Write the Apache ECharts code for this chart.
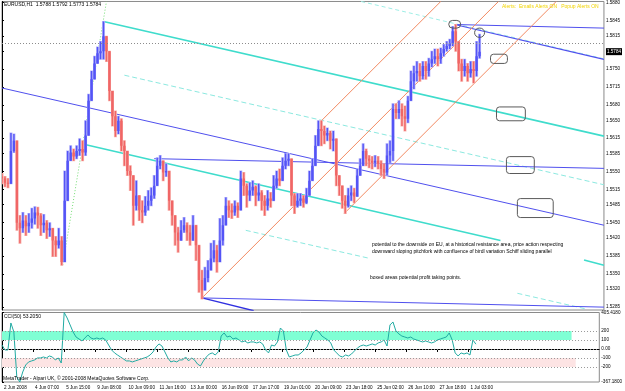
<!DOCTYPE html>
<html>
<head>
<meta charset="utf-8">
<script src="https://cdn.jsdelivr.net/npm/echarts@6/dist/echarts.min.js"></script>
<style>
  html, body { margin: 0; padding: 0; background: #fff; }
  #chart { width: 625px; height: 391px; }
</style>
</head>
<body>
<div id="chart"></div>
<script>
// EURUSD H1, 2 Jun - 1 Jul 2008, one bar every 3px of the original screenshot
var firstOpen = 1.5540;
var barClose = [
  1.5536,1.5528,1.5526,1.5590,1.5610,1.5450,1.5439,1.5454,1.5443,1.5450,
  1.5458,1.5470,1.5464,1.5445,1.5450,1.5435,1.5439,1.5415,1.5406,1.5415,
  1.5373,1.5493,1.5571,1.5587,1.5579,1.5590,1.5594,1.5587,1.5620,1.5688,
  1.5730,1.5761,1.5781,1.5785,1.5814,1.5785,1.5707,1.5658,1.5629,1.5649,
  1.5600,1.5590,1.5551,1.5542,1.5483,1.5503,1.5474,1.5470,1.5483,1.5493,
  1.5503,1.5522,1.5561,1.5571,1.5548,1.5551,1.5493,1.5464,1.5431,1.5415,
  1.5435,1.5445,1.5431,1.5415,1.5445,1.5406,1.5338,1.5318,1.5342,1.5357,
  1.5380,1.5396,1.5373,1.5415,1.5445,1.5483,1.5474,1.5470,1.5483,1.5474,
  1.5536,1.5522,1.5503,1.5513,1.5520,1.5503,1.5509,1.5493,1.5483,1.5497,
  1.5493,1.5522,1.5536,1.5532,1.5561,1.5571,1.5575,1.5503,1.5483,1.5493,
  1.5497,1.5489,1.5503,1.5532,1.5561,1.5600,1.5633,1.5629,1.5620,1.5625,
  1.5610,1.5614,1.5542,1.5522,1.5493,1.5483,1.5503,1.5509,1.5501,1.5542,
  1.5561,1.5590,1.5575,1.5571,1.5567,1.5571,1.5565,1.5555,1.5548,1.5581,
  1.5590,1.5672,1.5664,1.5672,1.5658,1.5653,1.5688,1.5726,1.5742,1.5746,
  1.5736,1.5756,1.5746,1.5761,1.5769,1.5775,1.5769,1.5781,1.5789,1.5795,
  1.5800,1.5824,1.5804,1.5761,1.5746,1.5756,1.5742,1.5750,1.5746,1.5775,
  1.5784
];
var barHigh = [
  1.5546,1.5540,1.5536,1.5625,1.5623,1.5610,1.5464,1.5470,1.5464,1.5468,
  1.5478,1.5481,1.5480,1.5468,1.5466,1.5454,1.5450,1.5435,1.5423,1.5439,
  1.5423,1.5551,1.5590,1.5600,1.5594,1.5600,1.5614,1.5610,1.5649,1.5701,
  1.5746,1.5775,1.5793,1.5804,1.5843,1.5808,1.5775,1.5697,1.5668,1.5658,
  1.5653,1.5610,1.5590,1.5561,1.5532,1.5532,1.5503,1.5493,1.5501,1.5513,
  1.5518,1.5542,1.5577,1.5581,1.5571,1.5565,1.5551,1.5493,1.5464,1.5441,
  1.5454,1.5460,1.5450,1.5445,1.5464,1.5445,1.5406,1.5357,1.5363,1.5376,
  1.5410,1.5415,1.5406,1.5458,1.5464,1.5499,1.5493,1.5487,1.5493,1.5489,
  1.5551,1.5548,1.5526,1.5528,1.5532,1.5522,1.5526,1.5513,1.5503,1.5513,
  1.5509,1.5542,1.5551,1.5555,1.5577,1.5585,1.5585,1.5571,1.5507,1.5507,
  1.5507,1.5503,1.5517,1.5551,1.5575,1.5620,1.5649,1.5649,1.5639,1.5635,
  1.5629,1.5629,1.5600,1.5542,1.5522,1.5503,1.5517,1.5522,1.5517,1.5555,
  1.5575,1.5604,1.5594,1.5581,1.5579,1.5581,1.5579,1.5571,1.5565,1.5604,
  1.5610,1.5682,1.5682,1.5688,1.5682,1.5678,1.5697,1.5746,1.5756,1.5765,
  1.5761,1.5765,1.5765,1.5771,1.5785,1.5789,1.5789,1.5791,1.5798,1.5804,
  1.5808,1.5833,1.5837,1.5804,1.5769,1.5769,1.5761,1.5765,1.5765,1.5804,
  1.5818
];
var barLow = [
  1.5526,1.5520,1.5518,1.5526,1.5587,1.5435,1.5410,1.5431,1.5425,1.5431,
  1.5439,1.5447,1.5439,1.5425,1.5431,1.5419,1.5423,1.5384,1.5384,1.5400,
  1.5367,1.5373,1.5548,1.5571,1.5571,1.5575,1.5581,1.5571,1.5581,1.5645,
  1.5697,1.5730,1.5769,1.5769,1.5769,1.5765,1.5688,1.5639,1.5618,1.5623,
  1.5590,1.5561,1.5542,1.5513,1.5445,1.5474,1.5454,1.5450,1.5464,1.5474,
  1.5483,1.5497,1.5532,1.5555,1.5532,1.5540,1.5474,1.5445,1.5406,1.5392,
  1.5415,1.5431,1.5415,1.5406,1.5419,1.5376,1.5314,1.5301,1.5324,1.5334,
  1.5361,1.5373,1.5353,1.5373,1.5406,1.5454,1.5460,1.5458,1.5464,1.5460,
  1.5474,1.5503,1.5480,1.5493,1.5503,1.5483,1.5493,1.5474,1.5464,1.5474,
  1.5480,1.5493,1.5517,1.5522,1.5532,1.5555,1.5561,1.5483,1.5468,1.5480,
  1.5483,1.5480,1.5487,1.5507,1.5542,1.5567,1.5610,1.5600,1.5604,1.5610,
  1.5594,1.5590,1.5522,1.5503,1.5478,1.5468,1.5480,1.5493,1.5489,1.5503,
  1.5542,1.5561,1.5561,1.5557,1.5555,1.5559,1.5555,1.5542,1.5536,1.5542,
  1.5567,1.5571,1.5653,1.5653,1.5639,1.5629,1.5645,1.5697,1.5711,1.5726,
  1.5726,1.5730,1.5730,1.5736,1.5754,1.5761,1.5756,1.5761,1.5775,1.5785,
  1.5789,1.5795,1.5785,1.5746,1.5726,1.5736,1.5726,1.5734,1.5723,1.5736,
  1.5771
];
// CCI(50), same bars
var cciValues = [
  44,-11,-11,289,190,-311,-367,-256,-178,-144,
  -133,-122,-100,-100,-89,-100,-78,-89,-122,-100,
  -156,405,344,267,189,133,111,89,122,156,
  122,111,122,111,122,100,44,-11,-44,-67,
  -89,-111,-133,-133,-144,-133,-122,-111,-100,-89,
  -67,-33,22,56,33,-33,-100,-144,-133,-144,
  -122,-122,-89,-133,-100,-122,-167,-189,-133,-89,
  -56,-44,-67,-33,144,178,133,144,111,122,
  100,78,89,67,78,78,67,78,56,-11,
  -44,44,33,78,233,200,-11,-89,-78,-67,
  -67,-44,-11,22,100,178,211,189,144,122,
  100,67,-11,-44,-78,-89,-67,-78,-56,-22,
  11,33,44,33,44,56,44,67,78,100,
  33,267,300,200,167,144,133,122,133,111,
  100,89,78,89,78,67,78,100,111,122,
  133,178,100,-44,-78,-44,-56,-44,-67,100,
  53.205
];

var lastPrice = 1.5784;
var priceTicks = [1.5880,1.5845,1.5815,1.5784,1.5750,1.5715,1.5680,1.5650,1.5615,1.5585,
  1.5550,1.5515,1.5485,1.5450,1.5420,1.5385,1.5350,1.5320,1.5285];
var cciTicks = [405.418, 200, 100, 0, -100, -200, -367.18];
var cciTickText = ['405.4180', '200', '100', '0.00', '-100', '-200', '-367.1800'];
var cciLevels = [200, 100, 0, -100, -200];
var timeTickIdx = [0, 10.5, 21, 31.5, 42, 52.5, 63, 73.5, 84, 94.5, 105, 115.5, 126, 136.5, 147, 157.5];
var timeLabels = ['2 Jun 2008','4 Jun 07:00','5 Jun 15:00','9 Jun 08:00','10 Jun 09:00','11 Jun 16:00',
  '13 Jun 00:00','16 Jun 09:00','17 Jun 17:00','19 Jun 01:00','20 Jun 09:00','23 Jun 18:00',
  '25 Jun 02:00','26 Jun 10:00','27 Jun 18:00','1 Jul 03:00'];

// drawn objects: [bar index, price] end points
var cyanUpper = [[34, 1.5843], [201.67, 1.5619]];
var cyanMidDash = [[41, 1.5738], [201.67, 1.5524]];
var cyanLowerA = [[26.67, 1.5604], [167, 1.5415]];
var cyanLowerB = [[195, 1.5377], [201.67, 1.5367]];
var cyanDashLowA = [[81.67, 1.5435], [123.33, 1.5380]];
var cyanDashLowB = [[172.67, 1.5312], [196, 1.5281]];
var cyanDashTop = [[120.33, 1.5882], [201.67, 1.5770]];
var blueUpper = [[0, 1.5713], [201.67, 1.5445]];
var blueFlat = [[51, 1.5575], [201.67, 1.5556]];
var blueTopFlat = [[151.67, 1.5837], [201.67, 1.5830]];
var blueTopDown = [[151.67, 1.5837], [201.67, 1.5769]];
var blueBottomFlat = [[67, 1.5303], [201.67, 1.5285]];
var blueBottomDown = [[67, 1.5303], [84.33, 1.5278]];
var greenDotted = [[20.33, 1.5367], [35, 1.5882]];
var forkUpper = [[107, 1.5649], [147, 1.5882]];
var forkMedian = [[67, 1.5303], [166.33, 1.5882]];
var forkLower = [[114.67, 1.5468], [185.67, 1.5882]];
// ellipses and boxes: [i1, p1, i2, p2]
var ellipseMarks = [[149.67, 1.5845, 153.67, 1.5830], [158.33, 1.5830, 161.67, 1.5812]];
var boxMarks = [[163.67, 1.5779, 169.33, 1.5761], [165.67, 1.5676, 175.33, 1.5649],
  [169, 1.5579, 178.33, 1.5546], [172.67, 1.5497, 184.67, 1.5460]];
var cciBands = [[100, 200, 192.3], [-200, -100, 193.7]];

var FONT = '"Liberation Sans", Arial, sans-serif';
var X_MAX = 201.67;

var barData = barClose.map(function (c, i) {
  var o = i === 0 ? firstOpen : barClose[i - 1];
  return [i, o, c, barLow[i], barHigh[i]];
});
var cciData = cciValues.map(function (v, i) { return [i, v]; });

function renderBar(params, api) {
  var i = api.value(0), o = api.value(1), c = api.value(2);
  var hi = api.coord([i, Math.max(api.value(4), o, c)]);
  var lo = api.coord([i, Math.min(api.value(3), o, c)]);
  var po = api.coord([i, o]);
  var pc = api.coord([i, c]);
  var col = c > o ? '#5454f6' : (c < o ? '#f06666' : '#66dd66');
  var halo = c > o ? '#b4b4fb' : (c < o ? '#f8b4ae' : '#b4f0b4');
  var top = Math.min(po[1], pc[1]);
  return {
    type: 'group',
    children: [
      { type: 'line', shape: { x1: hi[0], y1: hi[1] - 0.5, x2: lo[0], y2: lo[1] + 0.5 },
        style: { stroke: halo, lineWidth: 3 } },
      { type: 'line', shape: { x1: hi[0], y1: hi[1], x2: lo[0], y2: lo[1] },
        style: { stroke: col, lineWidth: 1.4 } },
      { type: 'rect', shape: { x: po[0] - 1.2, y: top, width: 2.4, height: Math.max(1, Math.abs(pc[1] - po[1])) },
        style: { fill: col } }
    ]
  };
}

function renderShape(rounded) {
  return function (params, api) {
    var a = api.coord([api.value(0), api.value(1)]);
    var b = api.coord([api.value(2), api.value(3)]);
    var w = Math.abs(b[0] - a[0]), h = Math.abs(b[1] - a[1]);
    return {
      type: 'rect',
      shape: { x: Math.min(a[0], b[0]), y: Math.min(a[1], b[1]), width: w, height: h,
        r: rounded ? Math.min(w, h) / 2 : 3 },
      style: { fill: 'none', stroke: '#5a5a5a', lineWidth: 1 }
    };
  };
}

function trend(pts, color, width, type) {
  return {
    type: 'line', xAxisIndex: 0, yAxisIndex: 0, data: pts, symbol: 'none', silent: true,
    animation: false, clip: true, z: 3,
    lineStyle: { color: color, width: width, type: type || 'solid' }
  };
}

var chart = echarts.init(document.getElementById('chart'), null, { renderer: 'canvas' });

chart.setOption({
  animation: false,
  backgroundColor: '#fff',
  textStyle: { fontFamily: FONT },
  grid: [
    { left: 2, top: 0, width: 605, height: 310, show: true, borderColor: '#8a8a8a', borderWidth: 1, backgroundColor: '#fff' },
    { left: 2, top: 312.5, width: 605, height: 69.5, show: true, borderColor: '#8a8a8a', borderWidth: 1, backgroundColor: '#fff' }
  ],
  xAxis: [
    { gridIndex: 0, type: 'value', min: 0, max: X_MAX, show: false },
    { gridIndex: 1, type: 'value', min: 0, max: X_MAX,
      axisLine: { show: true, lineStyle: { color: '#000' } },
      axisTick: { show: true, customValues: timeTickIdx, length: 3, lineStyle: { color: '#000' } },
      axisLabel: {
        customValues: timeTickIdx, fontSize: 4.6, color: '#000', margin: 3, align: 'left',
        padding: [0, 0, 0, 2], fontFamily: FONT,
        formatter: function (v) {
          var k = 0;
          timeTickIdx.forEach(function (t, j) { if (Math.abs(t - v) < Math.abs(timeTickIdx[k] - v)) k = j; });
          return timeLabels[k];
        }
      },
      splitLine: { show: false }
    }
  ],
  yAxis: [
    { gridIndex: 0, type: 'value', position: 'right', min: 1.52794, max: 1.5882,
      axisLine: { show: true, lineStyle: { color: '#000' } },
      axisTick: { show: true, customValues: priceTicks, length: 2, lineStyle: { color: '#000' } },
      axisLabel: {
        customValues: priceTicks, fontSize: 4.6, color: '#000', margin: 2, fontFamily: FONT,
        formatter: function (v) {
          var s = v.toFixed(4);
          return Math.abs(v - lastPrice) < 0.00001 ? '{cur|' + s + '}' : s;
        },
        rich: { cur: { backgroundColor: '#000', color: '#fff', fontSize: 4.6, padding: [1, 1, 1, 1], fontFamily: FONT } }
      },
      splitLine: { show: false }
    },
    { gridIndex: 1, type: 'value', position: 'right', min: -367.18, max: 405.418,
      axisLine: { show: true, lineStyle: { color: '#000' } },
      axisTick: { show: true, customValues: cciTicks, length: 2, lineStyle: { color: '#000' } },
      axisLabel: {
        customValues: cciTicks, fontSize: 4.6, color: '#000', margin: 2, fontFamily: FONT,
        formatter: function (v) {
          var k = 0;
          cciTicks.forEach(function (t, j) { if (Math.abs(t - v) < Math.abs(cciTicks[k] - v)) k = j; });
          return cciTickText[k];
        }
      },
      splitLine: { show: false }
    }
  ],
  series: [
    // CCI level lines (under the bands)
    { type: 'line', xAxisIndex: 1, yAxisIndex: 1, data: [], z: 1, silent: true,
      markLine: {
        silent: true, symbol: 'none', label: { show: false }, animation: false,
        lineStyle: { color: '#9a9a9a', type: [1, 2], width: 1 },
        data: cciLevels.map(function (l) { return { yAxis: l }; })
      }
    },
    { type: 'line', xAxisIndex: 1, yAxisIndex: 1, data: [], z: 2, silent: true,
      markArea: {
        silent: true, animation: false,
        data: cciBands.map(function (b, j) {
          return [{ yAxis: b[0], xAxis: 0, itemStyle: { color: j === 0 ? '#7fffd4' : '#fde4e4' } },
                  { yAxis: b[1], xAxis: b[2] }];
        })
      }
    },
    { type: 'line', xAxisIndex: 1, yAxisIndex: 1, data: cciData, symbol: 'none', z: 3,
      lineStyle: { color: '#20aaa2', width: 1 }, silent: true },

    // price bars
    { type: 'custom', xAxisIndex: 0, yAxisIndex: 0, data: barData, renderItem: renderBar,
      encode: { x: 0, y: [1, 2, 3, 4] }, clip: true, z: 4, silent: true,
      markLine: {
        silent: true, symbol: 'none', label: { show: false }, animation: false,
        lineStyle: { color: '#8c8c8c', type: [1, 2], width: 1 },
        data: [{ yAxis: lastPrice }]
      }
    },

    trend(greenDotted, '#74dc74', 1, [1, 2]),
    trend(cyanDashTop, '#9eeee6', 1, [4, 3]),
    trend(cyanUpper, '#3fdccc', 1.6),
    trend(cyanMidDash, '#8ce9e0', 1, [5, 3]),
    trend(cyanLowerA, '#3fdccc', 1.6),
    trend(cyanLowerB, '#3fdccc', 1.6),
    trend(cyanDashLowA, '#8ce9e0', 1, [5, 3]),
    trend(cyanDashLowB, '#8ce9e0', 1, [5, 3]),
    trend(blueUpper, '#5050ee', 1),
    trend(blueFlat, '#5050ee', 1),
    trend(blueTopFlat, '#5050ee', 1),
    trend(blueTopDown, '#5050ee', 1.2),
    trend(blueBottomFlat, '#5050ee', 1),
    trend(blueBottomDown, '#3030e0', 1.4),
    trend(forkUpper, '#f28a62', 1),
    trend(forkMedian, '#f28a62', 1),
    trend(forkLower, '#f28a62', 1),

    { type: 'custom', xAxisIndex: 0, yAxisIndex: 0, data: ellipseMarks, renderItem: renderShape(true),
      encode: { x: [0, 2], y: [1, 3] }, z: 6, silent: true },
    { type: 'custom', xAxisIndex: 0, yAxisIndex: 0, data: boxMarks, renderItem: renderShape(false),
      encode: { x: [0, 2], y: [1, 3] }, z: 6, silent: true }
  ],
  graphic: [
    { type: 'text', left: 4, top: 2, z: 10,
      style: { text: 'EURUSD,H1  1.5788 1.5792 1.5773 1.5784', fontSize: 5, fill: '#000', fontFamily: FONT } },
    { type: 'text', left: 502, top: 4.5, z: 10,
      style: { text: 'Alerts:  Emails Alerts ON   Popup Alerts ON', fontSize: 5, fill: '#f2d400', fontFamily: FONT } },
    { type: 'text', left: 372, top: 241.5, z: 10,
      style: { text: 'potential to the downside on EU, at a historical resistance area, price action respecting\ndownward sloping pitchfork with confluence of birdl variation Schiff sliding parallel',
        fontSize: 5, lineHeight: 6.5, fill: '#000', fontFamily: FONT } },
    { type: 'text', left: 370, top: 275, z: 10,
      style: { text: 'boxed areas potential profit taking points.', fontSize: 5, fill: '#000', fontFamily: FONT } },
    { type: 'text', left: 4, top: 314.5, z: 10,
      style: { text: 'CCI(50) 53.2050', fontSize: 5, fill: '#000', fontFamily: FONT } },
    { type: 'text', left: 3, top: 376.5, z: 10,
      style: { text: 'MetaTrader - Alpari UK, \u00a9 2001-2008 MetaQuotes Software Corp.', fontSize: 5, fill: '#000', fontFamily: FONT } }
  ]
});
</script>
</body>
</html>
